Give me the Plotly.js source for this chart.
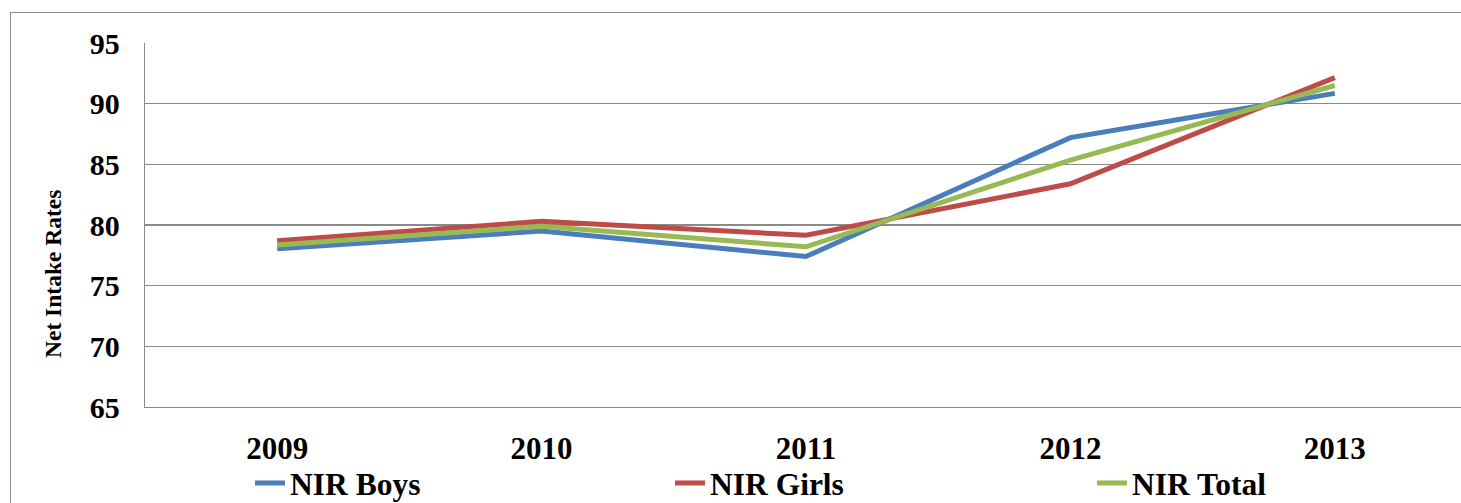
<!DOCTYPE html>
<html>
<head>
<meta charset="utf-8">
<script src="https://cdn.plot.ly/plotly-3.0.1.min.js"></script>
<style>
  html, body { margin: 0; padding: 0; overflow: hidden; background: #ffffff; width: 1461px; height: 503px; }
  #frame { position: absolute; left: 10px; top: 12px; width: 1600px; height: 800px; border: 1.5px solid #8a8a8a; box-sizing: border-box; }
  #chart { position: absolute; left: 0; top: 0; width: 1470px; height: 503px; }
</style>
</head>
<body>
<div id="frame"></div>
<div id="chart"></div>
<script>
const years = ['2009', '2010', '2011', '2012', '2013'];
const nirBoys  = [78.05, 79.5, 77.4, 87.2, 90.85];
const nirGirls = [78.7, 80.3, 79.15, 83.4, 92.15];
const nirTotal = [78.35, 79.9, 78.2, 85.35, 91.5];
const yTicks = [65, 70, 75, 80, 85, 90, 95];

const font = '"Liberation Serif", "Times New Roman", serif';

const mk = (name, y, color, leg) => ({
  type: 'scatter', mode: 'lines', name: name, x: years, y: y,
  line: { color: color, width: 5 }, legend: leg
});

const data = [
  mk('NIR Boys', nirBoys, '#4a7ebb', 'legend'),
  mk('NIR Girls', nirGirls, '#be4b48', 'legend2'),
  mk('NIR Total', nirTotal, '#98b954', 'legend3')
];

const legendBase = (x) => ({
  orientation: 'h', x: x, xanchor: 'left', y: 20 / 503, yanchor: 'middle',
  xref: 'paper', yref: 'container',
  font: { family: font, size: 31.5, weight: 'bold', color: '#000' },
  bgcolor: 'rgba(0,0,0,0)', borderwidth: 0
});

const layout = {
  width: 1470, height: 503,
  margin: { l: 145, r: 3, t: 43, b: 96 },
  paper_bgcolor: 'rgba(0,0,0,0)',
  plot_bgcolor: '#ffffff',
  font: { family: font, color: '#000000', size: 29 },
  showlegend: true,
  xaxis: {
    type: 'category', range: [-0.5, 4.5],
    showgrid: false, zeroline: false,
    showline: true, linecolor: '#8a8a8a', linewidth: 1.3,
    ticks: '', ticklabelstandoff: 13,
    tickfont: { family: font, size: 31, weight: 'bold', color: '#000' }
  },
  yaxis: {
    range: [65, 95], tickvals: yTicks,
    showgrid: true, gridcolor: '#8a8a8a', gridwidth: 1.3,
    zeroline: false, showline: true, linecolor: '#8a8a8a', linewidth: 1.3,
    ticks: '', ticklabelstandoff: 18,
    tickfont: { family: font, size: 30, weight: 'bold', color: '#000' }
  },
  legend: legendBase((250 - 145) / 1322),
  legend2: legendBase((670 - 145) / 1322),
  legend3: legendBase((1092 - 145) / 1322),
  annotations: [{
    text: 'Net Intake Rates', xref: 'paper', yref: 'paper',
    x: (53 - 145) / 1322, y: (407 - 274) / 364, xanchor: 'center', yanchor: 'middle',
    textangle: -90, showarrow: false,
    font: { family: font, size: 23.5, weight: 'bold', color: '#000' }
  }]
};

Plotly.newPlot('chart', data, layout, { displayModeBar: false, staticPlot: true });
</script>
</body>
</html>
